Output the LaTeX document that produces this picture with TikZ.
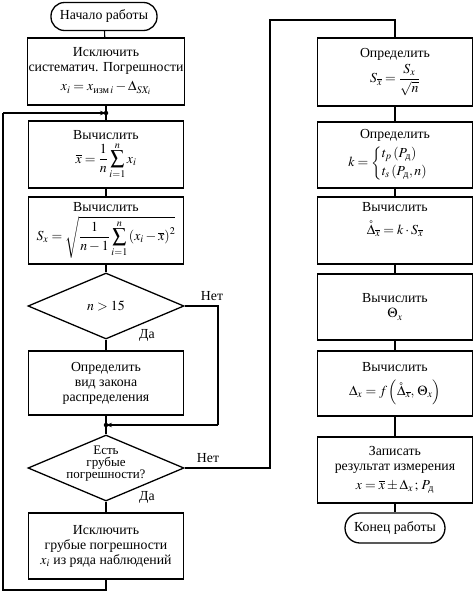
\documentclass[tikz,border=0pt]{standalone}
\usepackage{amsmath}
\usepackage{mathptmx}
\usepackage{fontspec}
\setmainfont{Liberation Serif}
\usetikzlibrary{shapes.geometric,arrows.meta}
\newcommand{\dsub}{\text{д}}
\begin{document}
\begin{tikzpicture}[x=1pt,y=-1pt,
  font=\fontsize{13.8}{15}\selectfont,
  box/.style={draw,line width=1.3pt,minimum width=155pt,minimum height=67pt,align=center,inner sep=1pt},
  term/.style={draw,line width=1.3pt,rounded corners=13.5pt,minimum width=106pt,minimum height=28pt,inner sep=2pt},
  dec/.style={draw,line width=1.3pt,diamond,minimum width=156pt,minimum height=66pt,inner sep=0pt},
  ln/.style={line width=1.1pt},
  arr/.style={line width=1.1pt,-{Stealth[length=6pt,width=4.5pt]}},
  dot/.style={circle,fill,inner sep=0pt,minimum size=4.5pt}]
\useasboundingbox (0,0) rectangle (474,592);
% left column
\node[term] (start) at (104,16.5) {Начало работы};
\node[box] (b1) at (106,71.5) {Исключить\\систематич. Погрешности\\[4pt]$x_i = x_{\text{изм}\,i} - \Delta_{SX_i}$};
\node[box] (b2) at (106,154.5) {Вычислить\\[2pt]$\overline{x}=\dfrac{1}{n}\displaystyle\sum_{i=1}^{n}x_i$};
\node[box] (b3) at (106,230.5) {Вычислить\\[4pt]$S_x=\sqrt{\dfrac{1}{n-1}\displaystyle\sum_{i=1}^{n}\left(x_i-\overline{x}\right)^2}$};
\node[dec] (d1) at (106,306) {};
\node (d1t) at (d1) {$n>15$};
\node[box,minimum height=64pt] (b4) at (106,383) {Определить\\вид закона\\распределения};
\node[dec] (d2) at (106,468) {};
\node[align=center,font=\fontsize{13}{12}\selectfont] (d2t) at (106,464) {Есть\\грубые\\погрешности?};
\node[box,minimum height=66pt] (b5) at (106,546) {Исключить\\грубые погрешности\\$x_i$ из ряда наблюдений};
\coordinate (j1) at (106,113);
\coordinate (j2) at (106,425);
% right column
\node[box,minimum height=68pt] (r1) at (395,72) {Определить\\[3pt]$S_{\overline{x}}=\dfrac{S_x}{\sqrt{n}}$};
\node[box,minimum height=66pt] (r2) at (395,155) {Определить\\[3pt]$k=\begin{cases}t_p\left(P_{\dsub}\right)\\[0pt] t_s\left(P_{\dsub},n\right)\end{cases}$};
\node[box,minimum height=67pt] (r3) at (395,230.5) {Вычислить\\[8pt]$\mathring{\Delta}_{\overline{x}}=k\cdot S_{\overline{x}}$\\[10pt]};
\node[box,minimum height=66pt] (r4) at (395,307) {Вычислить\\$\Theta_x$};
\node[box,minimum height=65pt] (r5) at (395,383.5) {Вычислить\\[7pt]$\Delta_x=f\left(\mathring{\Delta}_{\overline{x}},\,\Theta_x\right)$};
\node[box,minimum height=66pt] (r6) at (395,470) {Записать\\результат измерения\\[4pt]$x=\overline{x}\pm\Delta_x\,;\,P_{\dsub}$};
\node[term,minimum width=100pt,minimum height=30pt,rounded corners=15pt] (end) at (395,528) {Конец работы};
% connectors left
\draw[ln] (start) -- (b1);
\draw[ln] (b1) -- (j1) -- (b2);
\draw[ln] (b2) -- (b3);
\draw[ln] (b3) -- (d1);
\draw[ln] (d1) -- (b4);
\draw[ln] (b4) -- (j2) -- (d2);
\draw[ln] (d2) -- (b5);
\draw[ln] (d1.east) -- (218,306) -- (218,425);
\draw[arr] (218,425) -- (j2);
\draw[ln] (b5.south) -- (106,590) -- (3,590) -- (3,113);
\draw[arr] (3,113) -- (j1);
\node[dot] (j1d) at (j1) {};
\node[dot] (j2d) at (j2) {};
\draw[ln] (d2.east) -- (270,468) -- (270,20) -- (395,20) -- (r1.north);
% connectors right
\draw[ln] (r1) -- (r2);
\draw[ln] (r2) -- (r3);
\draw[ln] (r3) -- (r4);
\draw[ln] (r4) -- (r5);
\draw[ln] (r5) -- (r6);
\draw[ln] (r6) -- (end);
% labels
\node (n1) at (212,296) {Нет};
\node (y1) at (147,335) {Да};
\node (n2) at (208,458) {Нет};
\node (y2) at (147,497) {Да};
\end{tikzpicture}
\end{document}
